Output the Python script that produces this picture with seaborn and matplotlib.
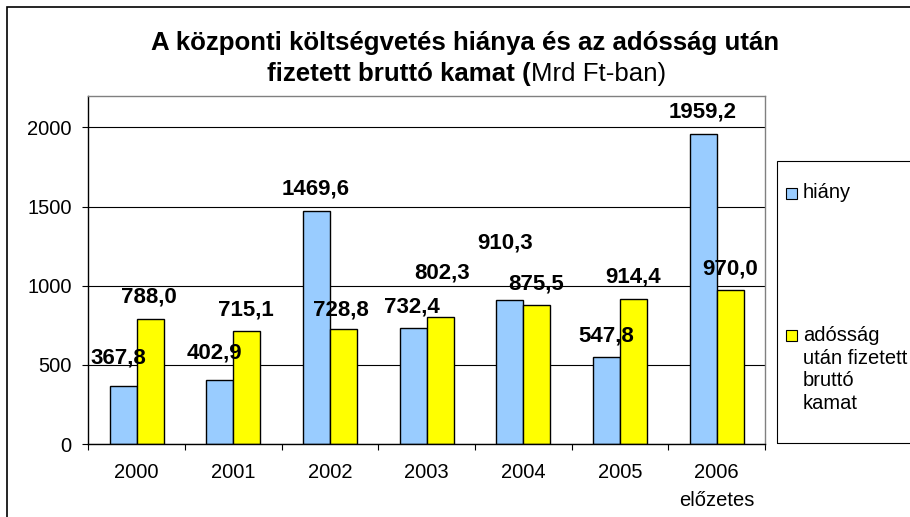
import matplotlib
matplotlib.use("Agg")
import matplotlib.pyplot as plt
import seaborn as sns
import pandas as pd
from matplotlib.patches import Rectangle

# ---------------- data ----------------
years = ["2000", "2001", "2002", "2003", "2004", "2005", "2006\nelőzetes"]
hiany = [367.8, 402.9, 1469.6, 732.4, 910.3, 547.8, 1959.2]
kamat = [788.0, 715.1, 728.8, 802.3, 875.5, 914.4, 970.0]
series_names = ["hiány", "adósság\nután fizetett\nbruttó\nkamat"]
y_ticks = [0, 500, 1000, 1500, 2000]
title_line1 = "A központi költségvetés hiánya és az adósság után"
title_line2_bold = "fizetett bruttó kamat ("
title_line2_normal = "Mrd Ft-ban)"

# ---------------- styles ----------------
colors = ["#99CCFF", "#FFFF00"]
W, H = 910, 517
# label offsets in pixels (dx, dy up) relative to bar top centre
label_offsets = [
    [(-5, 28), (-5, 27), (-1, 22), (-1, 21), (-4.5, 57), (0, 21), (-1, 22)],
    [(-1, 22), (-1, 21), (-3, 19), (2, 44), (-1, 21.5), (0, 22), (0, 21.5)],
]

sns.set_theme(style="white")
plt.rcParams["font.family"] = ["Liberation Sans", "DejaVu Sans"]
plt.rcParams["text.color"] = "black"
plt.rcParams["xtick.color"] = "black"
plt.rcParams["ytick.color"] = "black"
plt.rcParams["xtick.labelcolor"] = "black"
plt.rcParams["ytick.labelcolor"] = "black"

df = pd.DataFrame({
    "year": years * 2,
    "value": hiany + kamat,
    "series": [series_names[0]] * len(years) + [series_names[1]] * len(years),
})

fig = plt.figure(figsize=(W / 100, H / 100), dpi=100)
ax = fig.add_axes([88.3 / W, 1 - 444 / H, (765 - 88.3) / W, (444 - 95.7) / H])

sns.barplot(data=df, x="year", y="value", hue="series", order=years,
            hue_order=series_names, palette=colors, saturation=1, width=0.56,
            edgecolor="black", linewidth=1.0, legend=False, ax=ax)

ax.set_ylim(0, 2200)
ax.set_xlim(-0.5, len(years) - 0.5)
ax.set_yticks(y_ticks)
ax.set_yticklabels([str(t) for t in y_ticks], fontsize=14.5, color="black")
ax.set_xticks(range(len(years)))
ax.set_xticklabels(years, fontsize=14.5, color="black")
for t in ax.get_xticklabels():
    t.set_linespacing(1.6)
ax.set_xticks([i - 0.5 for i in range(len(years) + 1)], minor=True)
ax.tick_params(axis="x", which="major", length=0, pad=14)
ax.tick_params(axis="x", which="minor", length=4, width=0.8, color="black", direction="out", bottom=True)
ax.tick_params(axis="y", which="major", length=4, width=0.8, color="black", direction="out", left=True, pad=8)
ax.set_xlabel("")
ax.set_ylabel("")

ax.yaxis.grid(True, color="black", linewidth=0.8)
ax.set_axisbelow(True)
for side in ["left", "bottom"]:
    ax.spines[side].set_color("black")
    ax.spines[side].set_linewidth(1.0)
for side in ["top", "right"]:
    ax.spines[side].set_color("#808080")
    ax.spines[side].set_linewidth(1.0)

# value labels
for ci, cont in enumerate(ax.containers):
    for j, patch in enumerate(cont.patches):
        v = patch.get_height()
        dx, dy = label_offsets[ci][j]
        ax.annotate(f"{v:.1f}".replace(".", ","),
                    xy=(patch.get_x() + patch.get_width() / 2, v),
                    xytext=(dx * 0.72, dy * 0.72), textcoords="offset points",
                    ha="center", va="center", fontsize=16, fontweight="bold",
                    color="black", annotation_clip=False)

# title
fig.text(465.5 / W, 1 - 50 / H, title_line1, ha="center", va="baseline",
         fontsize=18.6, fontweight="bold", color="black")
fig.text(531 / W, 1 - 81 / H, title_line2_bold, ha="right", va="baseline",
         fontsize=18.6, fontweight="bold", color="black")
fig.text(531 / W, 1 - 81 / H, title_line2_normal, ha="left", va="baseline",
         fontsize=18.6, color="black")

# legend (manual, Excel-like)
fig.add_artist(Rectangle((777 / W, 1 - 443 / H), 0.5, (443 - 161) / H,
                         transform=fig.transFigure, fill=False,
                         edgecolor="black", linewidth=0.8))
for k, ycen in enumerate([193, 335]):
    fig.add_artist(Rectangle((786 / W, 1 - (ycen + 5.5) / H), 11 / W, 11 / H,
                             transform=fig.transFigure, facecolor=colors[k],
                             edgecolor="black", linewidth=0.8))
fig.text(803 / W, 1 - 193 / H, series_names[0], ha="left", va="center",
         fontsize=14.5, color="black")
fig.text(803 / W, 1 - 326 / H, series_names[1], ha="left", va="top",
         fontsize=14.5, color="black", linespacing=1.25)

# outer chart border
fig.add_artist(Rectangle((7 / W, -0.5), 2, 1.5 - 7 / H, transform=fig.transFigure,
                         fill=False, edgecolor="black", linewidth=1.2))

fig.savefig("out.png", dpi=100)
